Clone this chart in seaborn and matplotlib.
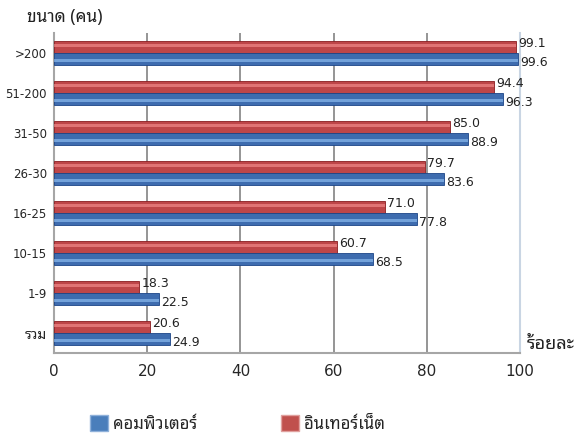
import matplotlib
matplotlib.use("Agg")
import matplotlib.pyplot as plt
from matplotlib.patches import Patch, Rectangle
import pandas as pd
import seaborn as sns

categories = [">200", "51-200", "31-50", "26-30", "16-25", "10-15", "1-9", "รวม"]
internet = [99.1, 94.4, 85.0, 79.7, 71.0, 60.7, 18.3, 20.6]
computer = [99.6, 96.3, 88.9, 83.6, 77.8, 68.5, 22.5, 24.9]
series = ["อินเทอร์เน็ต", "คอมพิวเตอร์"]
colors = {"อินเทอร์เน็ต": "#d23236", "คอมพิวเตอร์": "#2b68c2"}
xticks = [0, 20, 40, 60, 80, 100]

df = pd.DataFrame({
    "size": categories * 2,
    "series": [series[0]] * len(categories) + [series[1]] * len(categories),
    "value": internet + computer,
})

sns.set_style("white")
plt.rcParams["font.family"] = ["DejaVu Sans", "Noto Sans Thai Looped"]
thai = ["Noto Sans Thai Looped", "DejaVu Sans"]

fig = plt.figure(figsize=(5.77, 4.37), dpi=100)
ax = fig.add_axes([0.0936, 0.1922, 0.8076, 0.7323])

sns.barplot(data=df, y="size", x="value", hue="series", hue_order=series,
            order=categories, palette=colors, width=0.58, gap=0,
            edgecolor=None, linewidth=0, legend=False, ax=ax, zorder=3)

# darker rim + light stripe for the glossy look
for cont, s in zip(ax.containers, series):
    is_blue = s == series[1]
    for p in cont:
        p.set_edgecolor("#1c4588" if is_blue else "#8a1d20")
        p.set_linewidth(0.6)
        x0, y0 = p.get_x(), p.get_y()
        w, h = p.get_width(), p.get_height()
        off = 0.5 if is_blue else 0.2
        ax.add_patch(Rectangle((x0, y0 + h * off), w, h * 0.25,
                               facecolor="#9fd0ff" if is_blue else "#ff9a9a",
                               alpha=0.55, lw=0, zorder=4))

# value labels
for cont, vals, dy in zip(ax.containers, [internet, computer], [3, -3]):
    for p, v in zip(cont, vals):
        ax.annotate(f"{v:.1f}", (p.get_width(), p.get_y() + p.get_height() / 2),
                    xytext=(1.5, dy), textcoords="offset points",
                    ha="left", va="center", fontsize=9, color="#222222", zorder=5)

ax.set_xlim(0, 100)
ax.set_ylim(len(categories) - 0.5, -0.5)
ax.set_xticks(xticks)
ax.set_xticklabels([str(t) for t in xticks], fontsize=11)
ax.set_yticks(range(len(categories)))
ax.set_yticklabels(categories, fontsize=8.5)
ax.get_yticklabels()[-1].set_fontfamily(thai)
ax.get_yticklabels()[-1].set_fontsize(10)
ax.set_yticks([i + 0.5 for i in range(len(categories))], minor=True)
ax.tick_params(axis="y", which="major", length=0, pad=5)
ax.tick_params(axis="y", which="minor", length=5, color="#a6a6a6", width=1.2)
ax.tick_params(axis="x", length=5, color="#a6a6a6", width=1.2, pad=3)
ax.set_xlabel("")
ax.set_ylabel("")

ax.xaxis.grid(True, color="#8c8c8c", lw=1.3, zorder=0)
ax.set_axisbelow(True)
gl = ax.get_xgridlines()
gl[0].set_visible(False)
gl[-1].set_color("#c9d5e3")

for side in ["left", "bottom"]:
    ax.spines[side].set_color("#a6a6a6")
    ax.spines[side].set_linewidth(1.5)
ax.spines["top"].set_visible(False)
ax.spines["right"].set_color("#c9d5e3")
ax.spines["right"].set_linewidth(1.5)

fig.text(27 / 577, 1 - 17 / 437, "ขนาด (คน)", fontsize=12.5, fontweight="bold",
         family=thai, color="#222222", va="center", ha="left")
fig.text(527 / 577, 1 - 344 / 437, "ร้อยละ", fontsize=13, fontweight="bold",
         family=thai, color="#222222", va="center", ha="left")

handles = [Patch(facecolor="#4a7ebb", edgecolor="#8fb1da", label=series[1]),
           Patch(facecolor="#c0504d", edgecolor="#e0a09e", label=series[0])]
fig.legend(handles=handles, loc="center left", bbox_to_anchor=(90 / 577, 1 - 424 / 437),
           ncol=2, frameon=False, prop={"family": thai, "size": 12},
           handlelength=1.1, handleheight=1.1, handletextpad=0.3, columnspacing=5.0,
           borderpad=0, borderaxespad=0)

fig.savefig("out.png", dpi=100)
